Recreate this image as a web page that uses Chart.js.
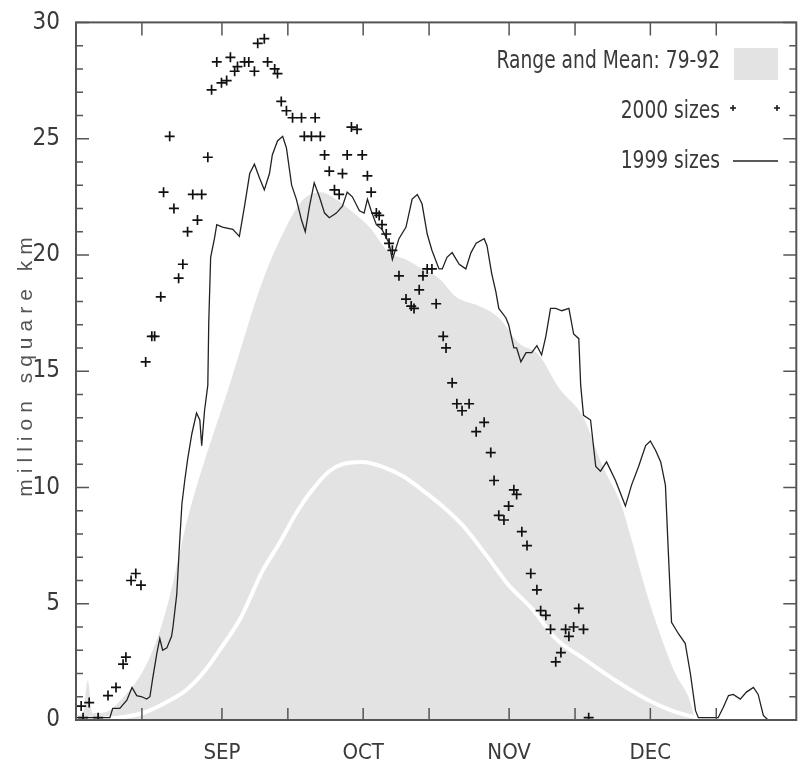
<!DOCTYPE html>
<html>
<head>
<meta charset="utf-8">
<title>Sizes</title>
<script src="https://cdn.jsdelivr.net/npm/chart.js@4.4.1/dist/chart.umd.min.js"></script>
<style>
  body { margin: 0; background: #fff; }
  #wrap { width: 803px; height: 762px; }
</style>
</head>
<body>
<div id="wrap"><canvas id="chart" width="803" height="762"></canvas></div>
<script>
// x values are days counted from Aug 1
const monthTicks = [31, 61, 92, 122];
const monthLabels = ["SEP", "OCT", "NOV", "DEC"];
const dayTicks = [14, 31, 45, 61, 75, 92, 106, 122, 136];

// Range 79-92 (upper edge of the grey band)
const rangeDays = [0, 1.5, 2.5, 3.5, 5, 7, 10.6, 14.2, 16.9, 19.1, 20.6, 23.5, 26.3, 29.5, 32.6, 35.5, 38.3, 41, 43.9, 46.5, 48.9, 52, 55.9, 59, 62.3, 66.5, 70.1, 73.5, 77.1, 80.7, 85.6, 89.8, 94.1, 98.3, 102.5, 107.8, 111.7, 115.9, 117.8, 121, 123.7, 127.3, 130.1, 131.6, 133];
const rangeTop = [0.2, 0.3, 1.7, 0.3, 0.3, 0.4, 1.1, 2.1, 3.3, 4.7, 5.9, 8.5, 10.5, 12.5, 14.4, 16.3, 18.1, 19.6, 20.9, 21.9, 22.5, 22.7, 22.3, 21.8, 21.2, 20.1, 19.8, 19.4, 19.0, 18.2, 17.8, 17.3, 16.2, 15.7, 14.3, 13.0, 11.0, 9.2, 7.9, 5.6, 3.9, 2.0, 1.0, 0.1, 0];

// Mean 79-92 (white line)
const meanDays = [0, 5, 9, 14.2, 20, 23.5, 27.5, 30.5, 35, 39.6, 43.2, 46.8, 50.2, 53.8, 56.6, 60.8, 65, 69.3, 73.5, 77.8, 82, 87.1, 91.9, 96.8, 101.9, 107.4, 114.6, 121.6, 127.3, 132.2, 136];
const meanSize = [0, 0.05, 0.1, 0.3, 0.85, 1.3, 2.15, 3.0, 4.4, 6.4, 7.6, 8.9, 9.9, 10.7, 11.0, 11.1, 10.9, 10.5, 9.9, 9.2, 8.4, 7.1, 5.8, 4.8, 3.5, 2.7, 1.7, 0.85, 0.35, 0.1, 0];

// 1999 sizes
const days1999 = [0, 7.2, 7.8, 9.3, 10.8, 11.9, 12.9, 14, 15, 15.7, 16.3, 17.2, 17.8, 18.4, 19.3, 20.3, 20.6, 21.4, 22, 22.5, 23.1, 23.7, 24.6, 25.6, 26.3, 26.7, 27.3, 28, 28.2, 28.6, 29.4, 29.9, 31.1, 33.3, 34.7, 35.8, 36.9, 37.9, 39, 40, 41.1, 41.7, 42.8, 43.9, 44.7, 45.8, 46.8, 47.9, 48.7, 49.6, 50.6, 51.7, 52.8, 53.8, 55.3, 56.6, 57.6, 58.7, 60.2, 61.2, 61.9, 62.7, 63.8, 65, 66.5, 67.2, 68.6, 70.1, 71.4, 72.5, 73.5, 74.6, 75.6, 77.1, 77.8, 78.8, 79.9, 81.4, 82.8, 83.9, 85, 86.7, 87.3, 88.3, 89.2, 89.8, 91.3, 91.9, 93, 93.6, 94.5, 95.6, 96.8, 97.9, 98.9, 99.8, 100.8, 101.9, 103.2, 104.7, 105.7, 106.8, 107.2, 107.8, 109.3, 110.4, 111.4, 112.7, 114.6, 116.7, 118, 119.5, 121, 122, 123.1, 124.2, 125.2, 125.8, 126.5, 128, 129.4, 130.5, 131.6, 132.2, 136.4, 137.5, 138.6, 139.6, 141.1, 142.4, 143.9, 144.9, 146, 147];
const size1999 = [0.1, 0.1, 0.5, 0.5, 0.85, 1.4, 1.05, 1.0, 0.9, 1.0, 1.8, 2.9, 3.5, 3.0, 3.1, 3.6, 4.0, 5.4, 7.6, 9.3, 10.3, 11.2, 12.3, 13.2, 12.9, 11.8, 13.3, 14.4, 17.1, 19.9, 20.7, 21.3, 21.2, 21.1, 20.8, 22.1, 23.5, 23.9, 23.3, 22.8, 23.5, 24.3, 24.9, 25.1, 24.6, 23.0, 22.4, 21.5, 21.0, 22.1, 23.1, 22.5, 21.8, 21.6, 21.8, 22.1, 22.7, 22.5, 21.9, 21.8, 22.4, 21.9, 21.3, 21.1, 20.5, 19.8, 20.7, 21.2, 22.4, 22.6, 22.2, 20.9, 20.2, 19.4, 19.4, 19.9, 20.1, 19.6, 19.4, 20.1, 20.5, 20.7, 20.4, 19.2, 18.4, 17.7, 17.3, 17.0, 16.0, 16.0, 15.4, 15.8, 15.8, 16.1, 15.7, 16.5, 17.7, 17.7, 17.6, 17.7, 16.6, 16.4, 14.4, 13.1, 12.9, 10.9, 10.7, 11.1, 10.3, 9.2, 10.1, 10.9, 11.8, 12.0, 11.6, 11.1, 10.1, 7.3, 4.2, 3.7, 3.3, 2.0, 0.4, 0.1, 0.1, 0.55, 1.05, 1.1, 0.9, 1.2, 1.4, 1.1, 0.2, 0];

// 2000 sizes
const days2000 = [1.1, 1.5, 2.8, 4.7, 6.8, 8.5, 10.0, 10.6, 11.7, 12.7, 13.8, 14.8, 16.1, 16.7, 18.0, 18.6, 19.9, 20.8, 21.8, 22.7, 23.7, 24.8, 25.8, 26.7, 28.0, 28.8, 29.9, 30.9, 32.0, 32.8, 33.7, 34.3, 35.8, 36.7, 37.9, 38.6, 40.0, 40.7, 42.2, 42.8, 43.6, 44.7, 46.0, 47.9, 48.5, 50.0, 50.8, 51.9, 52.8, 53.8, 54.9, 55.9, 56.6, 57.6, 58.5, 59.7, 60.8, 61.9, 62.7, 63.8, 64.4, 65.0, 65.9, 66.5, 67.2, 68.6, 70.1, 71.2, 71.8, 72.9, 73.7, 74.6, 75.6, 76.5, 78.0, 78.6, 79.9, 80.9, 82.0, 83.5, 85.0, 86.7, 88.1, 88.8, 89.8, 90.9, 91.9, 93.0, 93.6, 94.7, 95.8, 96.6, 97.9, 98.7, 99.8, 100.8, 101.9, 103.0, 104.0, 104.7, 105.7, 106.8, 107.8, 108.9];
const size2000 = [0.6, 0.1, 0.75, 0.1, 1.05, 1.4, 2.4, 2.7, 6.0, 6.3, 5.8, 15.4, 16.5, 16.5, 18.2, 22.7, 25.1, 22.0, 19.0, 19.6, 21.0, 22.6, 21.5, 22.6, 24.2, 27.1, 28.3, 27.4, 27.5, 28.5, 27.9, 28.1, 28.3, 28.3, 27.9, 29.1, 29.3, 28.3, 28.0, 27.8, 26.6, 26.2, 25.9, 25.9, 25.1, 25.1, 25.9, 25.1, 24.3, 23.6, 22.8, 22.6, 23.5, 24.3, 25.5, 25.4, 24.3, 23.4, 22.7, 21.8, 21.7, 21.3, 20.9, 20.5, 20.2, 19.1, 18.1, 17.8, 17.7, 18.5, 19.1, 19.4, 19.4, 17.9, 16.5, 16.0, 14.5, 13.6, 13.3, 13.6, 12.4, 12.8, 11.5, 10.3, 8.8, 8.6, 9.2, 9.9, 9.7, 8.1, 7.5, 6.3, 5.6, 4.7, 4.5, 3.9, 2.5, 2.9, 3.9, 3.6, 4.0, 4.8, 3.9, 0.1];

const toPoints = (xs, ys) => xs.map((x, i) => ({ x: x, y: ys[i] }));

const FONT = "'DejaVu Sans Condensed', 'Liberation Sans Narrow', sans-serif";
const TEXT = "#3a3a3a";
const BAND = "#e3e3e3";

// inward ticks on all four sides + frame
const frameTicks = {
  id: "frameTicks",
  afterDraw(chart) {
    const { ctx, chartArea: a, scales } = chart;
    const x = scales.x, y = scales.y;
    ctx.save();
    ctx.strokeStyle = "#555";
    ctx.lineWidth = 1.5;
    for (let v = 0; v <= 30; v++) {
      const py = y.getPixelForValue(v);
      const len = v % 5 === 0 ? 13 : 7;
      ctx.beginPath();
      ctx.moveTo(a.left, py); ctx.lineTo(a.left + len, py);
      ctx.moveTo(a.right - len, py); ctx.lineTo(a.right, py);
      ctx.stroke();
    }
    dayTicks.forEach((d) => {
      const px = x.getPixelForValue(d);
      ctx.beginPath();
      ctx.moveTo(px, a.bottom); ctx.lineTo(px, a.bottom - 12);
      ctx.moveTo(px, a.top); ctx.lineTo(px, a.top + 13);
      ctx.stroke();
    });
    ctx.lineWidth = 2;
    ctx.strokeRect(a.left, a.top, a.right - a.left, a.bottom - a.top);
    ctx.restore();
  },
};

// y title with wide letter spacing
const yTitle = {
  id: "yTitle",
  afterDraw(chart) {
    const { ctx } = chart;
    ctx.save();
    ctx.translate(26, 364);
    ctx.rotate(-Math.PI / 2);
    ctx.font = "21px 'Liberation Sans', sans-serif";
    if ("letterSpacing" in ctx) ctx.letterSpacing = "6px";
    ctx.fillStyle = "#555";
    ctx.textAlign = "center";
    ctx.textBaseline = "middle";
    ctx.fillText("million square km", 0, 0);
    ctx.restore();
  },
};

// legend: text first, symbol on the right
const sideLegend = {
  id: "sideLegend",
  afterDraw(chart) {
    const { ctx } = chart;
    const ds = chart.data.datasets;
    const rows = [[ds[3].label, 61], [ds[0].label, 111], [ds[1].label, 161]];
    ctx.save();
    ctx.font = "25px " + FONT;
    ctx.fillStyle = TEXT;
    ctx.textAlign = "right";
    ctx.textBaseline = "middle";
    rows.forEach(([txt, ty]) => {
      ctx.save();
      ctx.translate(720, ty);
      ctx.scale(0.83, 1);
      ctx.fillText(txt, 0, 0);
      ctx.restore();
    });

    ctx.fillStyle = BAND;
    ctx.fillRect(734, 48, 44, 32);

    ctx.strokeStyle = "#111";
    ctx.lineWidth = 1.5;
    [733, 777].forEach((cx) => {
      ctx.beginPath();
      ctx.moveTo(cx - 3, 108); ctx.lineTo(cx + 3, 108);
      ctx.moveTo(cx, 105); ctx.lineTo(cx, 111);
      ctx.stroke();
    });

    ctx.lineWidth = 1.3;
    ctx.strokeStyle = "#222";
    ctx.beginPath();
    ctx.moveTo(733, 161); ctx.lineTo(778, 161);
    ctx.stroke();
    ctx.restore();
  },
};

new Chart(document.getElementById("chart"), {
  type: "line",
  data: {
    datasets: [
      {
        label: "2000 sizes",
        data: toPoints(days2000, size2000),
        showLine: false,
        pointStyle: "cross",
        pointRadius: 5,
        pointBorderWidth: 1.7,
        pointBorderColor: "#111",
      },
      {
        label: "1999 sizes",
        data: toPoints(days1999, size1999),
        borderColor: "#222",
        borderWidth: 1.3,
        pointRadius: 0,
        tension: 0,
      },
      {
        label: "Mean 79-92",
        data: toPoints(meanDays, meanSize),
        borderColor: "#fff",
        borderWidth: 4,
        pointRadius: 0,
        cubicInterpolationMode: "monotone",
      },
      {
        label: "Range and Mean: 79-92",
        data: toPoints(rangeDays, rangeTop),
        borderWidth: 0,
        borderColor: BAND,
        backgroundColor: BAND,
        fill: "origin",
        pointRadius: 0,
        cubicInterpolationMode: "monotone",
      },
    ],
  },
  options: {
    responsive: false,
    animation: false,
    events: [],
    layout: { padding: { top: 13, right: 5, left: 0, bottom: 0 } },
    plugins: { legend: { display: false }, tooltip: { enabled: false } },
    scales: {
      x: {
        type: "linear",
        min: 0,
        max: 153,
        grid: { display: false },
        border: { display: false },
        afterBuildTicks: (scale) => {
          scale.ticks = monthTicks.map((v) => ({ value: v }));
        },
        afterFit: (scale) => { scale.height = 42; },
        ticks: {
          padding: 12,
          maxRotation: 0,
          color: TEXT,
          font: { family: FONT, size: 22 },
          callback: (v) => monthLabels[monthTicks.indexOf(v)],
        },
      },
      y: {
        min: 0,
        max: 30,
        grid: { display: false },
        border: { display: false },
        afterFit: (scale) => { scale.width = 76; },
        ticks: {
          stepSize: 5,
          padding: 8,
          color: TEXT,
          font: { family: FONT, size: 24 },
        },
      },
    },
  },
  plugins: [frameTicks, yTitle, sideLegend],
});
</script>
</body>
</html>
